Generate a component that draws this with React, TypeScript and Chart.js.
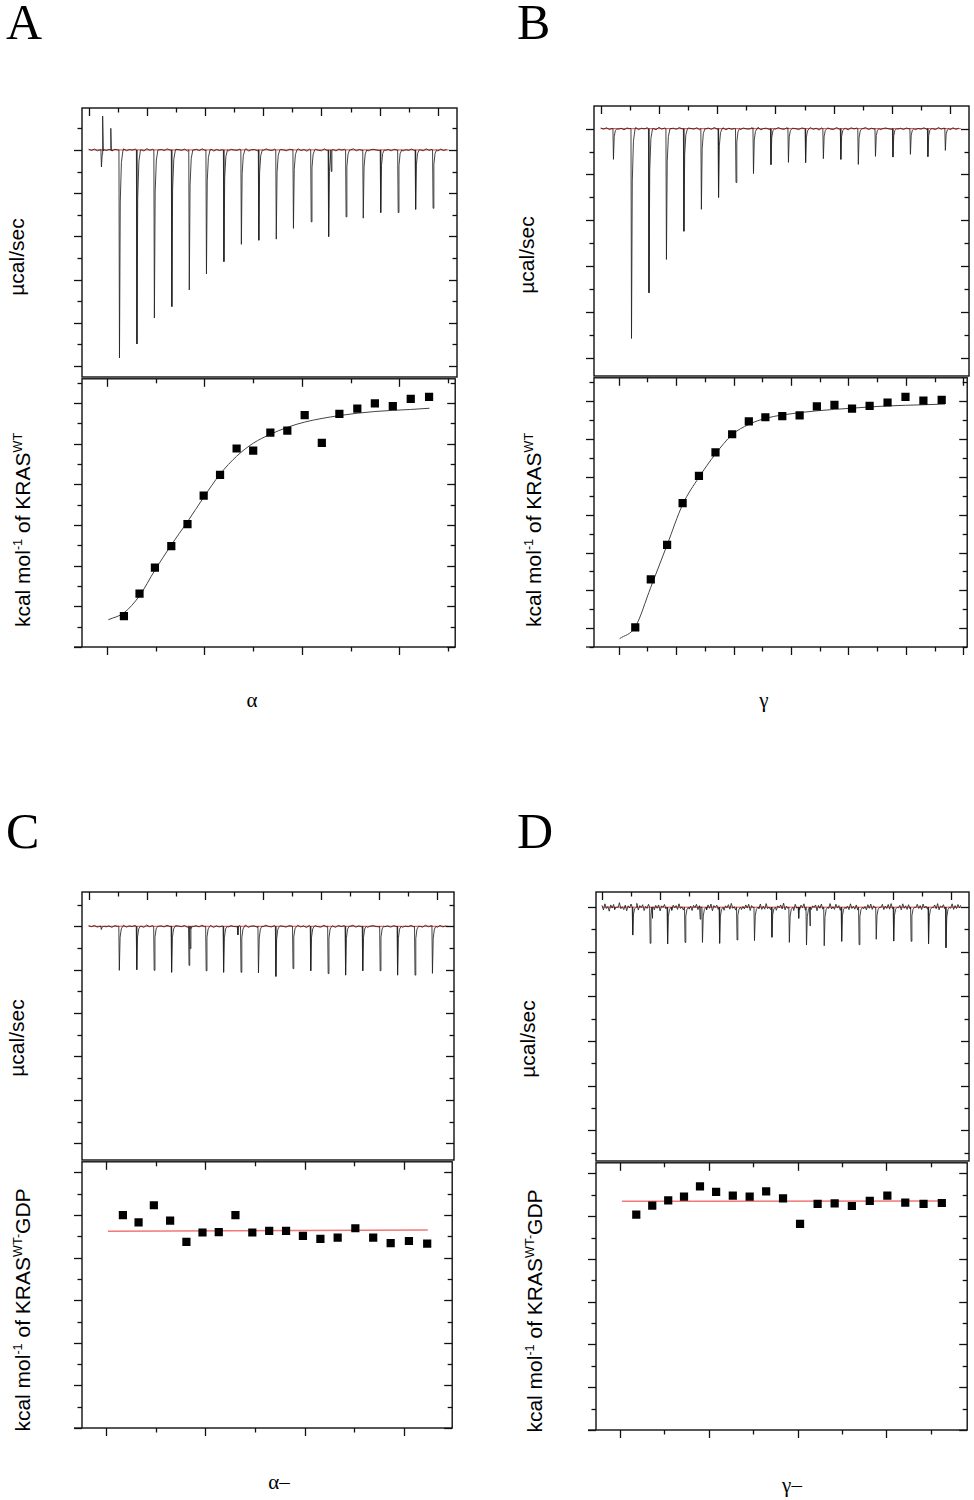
import React, { useEffect, useRef } from 'react';
import { Chart, registerables } from 'chart.js';

Chart.register(...registerables);

// ---------------- data ----------------
// injection times (min) shared by the four raw thermograms
const INJ_TIMES = [4.2, 10.4, 16.4, 22.4, 28.4, 34.4, 40.3, 46.3, 52.3, 58.3, 64.3, 70.2, 76.3, 82.3, 88.3, 94.2, 100.2, 106.2, 112.2, 118.2];

// peak heights (µcal/sec) of each injection
const A_PEAKS = [-0.079, -0.963, -0.898, -0.778, -0.725, -0.648, -0.574, -0.517, -0.437, -0.418, -0.413, -0.363, -0.333, -0.401, -0.31, -0.316, -0.29, -0.29, -0.275, -0.27];
const B_PEAKS = [-0.134, -0.916, -0.717, -0.571, -0.448, -0.352, -0.3, -0.235, -0.196, -0.157, -0.147, -0.148, -0.131, -0.134, -0.156, -0.121, -0.124, -0.112, -0.122, -0.095];
const C_PEAKS = [-0.015, -0.203, -0.2, -0.203, -0.212, -0.18, -0.205, -0.212, -0.212, -0.215, -0.231, -0.195, -0.205, -0.218, -0.225, -0.205, -0.205, -0.225, -0.225, -0.217];
const D_PEAKS = [-0.01, -0.125, -0.162, -0.165, -0.158, -0.158, -0.162, -0.147, -0.15, -0.135, -0.158, -0.17, -0.173, -0.153, -0.168, -0.144, -0.152, -0.153, -0.164, -0.182];

// extra spikes / artefacts in the raw traces: [time, µcal/sec]
const A_EXTRA = [[4.9, 0.157], [7.6, 0.1], [83.4, -0.1]];
const B_EXTRA: number[][] = [];
const C_EXTRA = [[35.0, -0.103], [51.4, -0.04]];
const D_EXTRA = [[17.3, -0.05], [33.8, -0.054], [67.7, -0.05], [71.6, -0.084]];

// baseline wiggle of the raw traces (1/1000 µcal/sec)
const NOISE_ABC = [
  3, -2, 4, -4, 1, 5, -3, 2, -5, 3, 0, -2, 5, -4, 2, -1, 4, -3, 1, -5,
  6, -2, 3, -4, 0, 2, -3, 5, -1, -4, 3, 1, -2, 4, -5, 2, -1, 3, -3, 5,
  -2, 0, 4, -5, 2, -3, 1, 5, -4, 3, -1, -2, 4, -3, 6, -5, 1, 2, -4, 3,
  -2, 5, -1, -3, 4, -5, 2, 0, -4, 3, 1, -2, 5, -3, 2, -6, 4, -1, 3, -2,
  -4, 5, -3, 1, 2, -5, 4, -1, 3, -3, 0, 5, -4, 2, -2, 4, -5, 1, 3, -1,
  -3, 6, -2, 2, -4, 3, -1, 5, -5, 1, -2, 4, -3, 2, 0, -4, 5, -2, 3, -1,
  -5, 4, -3, 2, 1,
];
const NOISE_D = [
  8, -12, 15, -6, 3, -18, 10, -4, 12, -9, 5, -14, 20, -7, 2, -11, 9, -16, 6, -3,
  14, -10, 4, -8, 17, -13, 7, -2, 11, -15, 3, -6, 13, -9, 16, -4, -12, 8, -5, 10,
  -17, 6, -1, 12, -8, 18, -11, 4, -14, 9, -3, 7, -10, 15, -6, 2, -13, 11, -7, 19,
  -9, 5, -15, 8, -2, 13, -11, 6, -4, 16, -8, 3, -12, 10, -5, 14, -16, 7, -1, 9,
  -10, 4, -7, 12, -14, 6, -3, 11, -9, 17, -5, 2, -13, 8, -6, 15, -11, 3, -8, 10,
  -4, 13, -15, 7, -2, 9, -12, 5, -6, 14, -10, 4, -9, 16, -7, 1, -11, 12, -5, 8,
  -14, 6, -3, 10, -8, 18, -12, 4, -6, 11, -9, 3, -15, 13, -4, 7, -10, 9, -2, 15,
  -13, 5, -7, 12, -11, 6, -1, 10, -16, 8, -5, 14, -9, 3, -12, 11, -6, 16, -8, 2,
  -10, 13, -4, 7, -14, 9, -3, 12, -7, 5, -11, 15, -6, 4, -9, 10, -13, 8, -2, 17,
  -8, 3, -12, 11, -5, 14, -10, 6, -4, 9, -15, 7, -1, 13, -11, 5, -6, 12, -9, 16,
  -7, 2, -13, 10, -3, 8, -12, 15, -5, 6, -10, 11, -8, 4, -14, 9, -2, 13, -6, 7,
  -11, 14, -4, 5, -9, 12, -15, 8, -3, 10, -7, 16, -12, 6, -1, 11, -8, 4, -13, 9,
  -5, 15, -10, 7, -6, 12, -4, 9,
];
const TRACE_END = 123.7;

// integrated heats (kcal/mol of injectant) vs molar ratio
const A_RATIO = [0.087, 0.167, 0.246, 0.33, 0.413, 0.496, 0.58, 0.665, 0.75, 0.838, 0.925, 1.014, 1.102, 1.192, 1.284, 1.374, 1.466, 1.558, 1.652];
const A_HEAT = [-5.24, -4.69, -4.05, -3.52, -2.98, -2.28, -1.77, -1.12, -1.17, -0.73, -0.68, -0.3, -0.98, -0.27, -0.14, -0.01, -0.08, 0.1, 0.15];
const A_FIT_RATIO = [0.007, 0.087, 0.167, 0.246, 0.33, 0.413, 0.496, 0.58, 0.665, 0.75, 0.838, 0.925, 1.014, 1.192, 1.374, 1.558, 1.654];
const A_FIT_HEAT = [-5.33, -5.16, -4.74, -4.11, -3.49, -2.92, -2.32, -1.75, -1.31, -0.99, -0.77, -0.6, -0.47, -0.31, -0.21, -0.16, -0.13];

const B_RATIO = [0.145, 0.28, 0.422, 0.557, 0.699, 0.843, 0.988, 1.133, 1.277, 1.424, 1.575, 1.725, 1.878, 2.031, 2.184, 2.34, 2.496, 2.652, 2.811];
const B_HEAT = [-5.98, -4.71, -3.8, -2.69, -1.97, -1.35, -0.87, -0.53, -0.42, -0.39, -0.37, -0.13, -0.09, -0.19, -0.12, -0.03, 0.12, 0.02, 0.04];
const B_FIT_RATIO = [0.009, 0.145, 0.28, 0.422, 0.557, 0.699, 0.843, 0.988, 1.133, 1.277, 1.424, 1.725, 2.031, 2.34, 2.652, 2.84];
const B_FIT_HEAT = [-6.28, -5.97, -4.92, -3.8, -2.73, -2.01, -1.39, -0.88, -0.61, -0.45, -0.36, -0.25, -0.18, -0.12, -0.09, -0.07];

const C_RATIO = [0.084, 0.163, 0.24, 0.322, 0.404, 0.485, 0.567, 0.651, 0.736, 0.821, 0.906, 0.991, 1.079, 1.166, 1.255, 1.345, 1.433, 1.525, 1.617];
const C_HEAT = [-1.0, -1.17, -0.77, -1.13, -1.63, -1.41, -1.4, -1.0, -1.41, -1.37, -1.37, -1.49, -1.56, -1.53, -1.31, -1.53, -1.66, -1.61, -1.67];
const C_FIT_RATIO = [0.0085, 1.62];
const C_FIT_HEAT = [-1.38, -1.35];

const D_RATIO = [0.091, 0.181, 0.271, 0.36, 0.45, 0.541, 0.635, 0.73, 0.823, 0.918, 1.014, 1.113, 1.209, 1.306, 1.407, 1.506, 1.607, 1.71, 1.813];
const D_HEAT = [-0.96, -0.75, -0.63, -0.54, -0.3, -0.43, -0.52, -0.54, -0.42, -0.58, -1.18, -0.71, -0.7, -0.76, -0.64, -0.52, -0.68, -0.71, -0.69];
const D_FIT_RATIO = [0.01, 1.83];
const D_FIT_HEAT = [-0.65, -0.645];

// axis ranges [min, max]
const A_TOP_X = [-2.3, 126.6], A_TOP_Y = [-1.051, 0.194];
const A_BOT_X = [-0.128, 1.786], A_BOT_Y = [-6, 0.594];
const B_TOP_X = [-2.3, 126.5], B_TOP_Y = [-1.08, 0.099];
const B_BOT_X = [-0.214, 3.033], B_BOT_Y = [-6.5, 0.624];
const C_TOP_X = [-2.27, 125.8], C_TOP_Y = [-1.077, 0.158];
const C_BOT_X = [-0.122, 1.743], C_BOT_Y = [-6, 0.25];
const D_TOP_X = [-2.06, 126.3], D_TOP_Y = [-1.138, 0.068];
const D_BOT_X = [-0.136, 1.956], D_BOT_Y = [-6, 0.25];

// ---------------- layout / style ----------------
const GEOM: any = {
  A: { top: { l: 82, t: 108, r: 457, b: 377 }, bot: { l: 82, t: 377, r: 457, b: 647 } },
  B: { top: { l: 594, t: 106, r: 969, b: 376 }, bot: { l: 594, t: 376, r: 969, b: 647 } },
  C: { top: { l: 82, t: 892, r: 454, b: 1160 }, bot: { l: 82, t: 1160, r: 454, b: 1428 } },
  D: { top: { l: 596, t: 892, r: 969, b: 1161 }, bot: { l: 596, t: 1161, r: 969, b: 1430 } },
};
const PAD = { l: 12, t: 4, r: 4, b: 12 };
// relative spike profile of one injection: [min after injection, fraction of peak]
const PEAK_SHAPE = [[0, 0], [0.18, 1], [0.45, 0.25], [0.85, 0.06], [1.4, 0]];

const SANS = '"Liberation Sans", Arial, Helvetica, sans-serif';
const SERIF = '"Liberation Serif", "Times New Roman", Times, serif';

function buildTrace(noise: number[], dt: number, peaks: number[], extras: number[][]) {
  const tail = PEAK_SHAPE[PEAK_SHAPE.length - 1][0];
  const busy = (t: number) =>
    INJ_TIMES.some((ti) => t > ti - 0.05 && t < ti + tail) ||
    extras.some(([te]) => t > te - 0.3 && t < te + 0.3);
  const pts: { x: number; y: number }[] = [];
  for (let k = 0; k < noise.length; k++) {
    const t = k * dt;
    if (t > TRACE_END) break;
    if (!busy(t)) pts.push({ x: t, y: noise[k] / 1000 });
  }
  peaks.forEach((d, i) => PEAK_SHAPE.forEach(([o, f]) => pts.push({ x: INJ_TIMES[i] + o, y: d * f })));
  extras.forEach(([t, v]) => pts.push({ x: t - 0.2, y: 0 }, { x: t, y: v }, { x: t + 0.2, y: 0 }));
  pts.sort((a, b) => a.x - b.x);
  return pts;
}

const xy = (xs: number[], ys: number[]) => xs.map((x, i) => ({ x, y: ys[i] }));

const frameTicks = {
  id: 'frameTicks',
  afterDatasetsDraw(chart: any) {
    const o = chart.options.plugins.frameTicks;
    if (!o) return;
    const { ctx, chartArea: a } = chart;
    const xs = chart.scales.x;
    const ys = chart.scales.y;
    const seg = (x1: number, y1: number, x2: number, y2: number) => {
      ctx.beginPath();
      ctx.moveTo(x1, y1);
      ctx.lineTo(x2, y2);
      ctx.stroke();
    };
    const each = (scale: any, minor: number, major: number, cb: (p: number, M: boolean) => void) => {
      const ratio = Math.round(major / minor);
      const k0 = Math.ceil(scale.min / minor - 1e-6);
      const k1 = Math.floor(scale.max / minor + 1e-6);
      for (let k = k0; k <= k1; k++) cb(Math.round(scale.getPixelForValue(k * minor)) + 0.5, Math.abs(k) % ratio === 0);
    };
    ctx.save();
    ctx.strokeStyle = '#111';
    ctx.lineWidth = 1.3;
    each(ys, o.yMinor, o.yMajor, (p, M) => {
      const L = M ? 8 : 4.5;
      seg(a.left - L, p, a.left, p);
      seg(a.right, p, a.right - L, p);
    });
    each(xs, o.xMinor, o.xMajor, (p, M) => {
      const L = M ? 8 : 4.5;
      seg(p, a.top, p, a.top + L);
      if (o.bottom) seg(p, a.bottom, p, a.bottom + L);
    });
    if (o.bottom) seg(a.left - 8, a.bottom, a.left, a.bottom);
    ctx.lineWidth = 1.4;
    ctx.strokeRect(a.left, a.top, a.right - a.left, a.bottom - a.top);
    ctx.restore();
  },
};

function baseOptions(xr: number[], yr: number[], ticks: any) {
  return {
    animation: false,
    responsive: false,
    events: [],
    layout: { padding: { left: PAD.l, top: PAD.t, right: PAD.r, bottom: PAD.b } },
    plugins: { legend: { display: false }, tooltip: { enabled: false }, frameTicks: ticks },
    scales: {
      x: { type: 'linear', display: false, min: xr[0], max: xr[1] },
      y: { type: 'linear', display: false, min: yr[0], max: yr[1] },
    },
  };
}

function topConfig(noise: number[], dt: number, peaks: number[], extras: number[][], xr: number[], yr: number[]) {
  return {
    type: 'scatter',
    data: {
      datasets: [
        {
          data: buildTrace(noise, dt, peaks, extras),
          showLine: true,
          borderColor: '#222',
          borderWidth: 0.85,
          pointRadius: 0,
        },
        {
          data: [{ x: 0, y: 0 }, { x: TRACE_END, y: 0 }],
          showLine: true,
          borderColor: 'rgba(240,40,40,0.9)',
          borderWidth: 1,
          pointRadius: 0,
        },
      ],
    },
    options: baseOptions(xr, yr, { xMinor: 10, xMajor: 20, yMinor: 0.1, yMajor: 0.2, bottom: false }),
    plugins: [frameTicks],
  };
}

function botConfig(rx: number[], hy: number[], fx: number[], fy: number[], fitColor: string, fitWidth: number, xr: number[], yr: number[]) {
  return {
    type: 'scatter',
    data: {
      datasets: [
        {
          data: xy(rx, hy),
          pointStyle: 'rect',
          pointRadius: 5.8,
          pointBackgroundColor: '#000',
          pointBorderWidth: 0,
          showLine: false,
        },
        {
          data: xy(fx, fy),
          showLine: true,
          borderColor: fitColor,
          borderWidth: fitWidth,
          pointRadius: 0,
          cubicInterpolationMode: 'monotone',
        },
      ],
    },
    options: baseOptions(xr, yr, { xMinor: 0.25, xMajor: 0.5, yMinor: 0.5, yMajor: 1, bottom: true }),
    plugins: [frameTicks],
  };
}

function Plot({ rect, make }: { rect: any; make: () => any }) {
  const ref = useRef<HTMLCanvasElement>(null);
  const w = rect.r - rect.l + PAD.l + PAD.r;
  const h = rect.b - rect.t + PAD.t + PAD.b;
  useEffect(() => {
    const chart = new Chart(ref.current as HTMLCanvasElement, make());
    return () => chart.destroy();
  }, []);
  return (
    <canvas
      ref={ref}
      width={w}
      height={h}
      style={{ position: 'absolute', left: rect.l - PAD.l, top: rect.t - PAD.t, width: w, height: h }}
    />
  );
}

const Sup = ({ children }: any) => (
  <span style={{ fontSize: '0.6em', position: 'relative', top: '-0.6em' }}>{children}</span>
);

function VLabel({ cx, cy, children }: any) {
  return (
    <div
      style={{
        position: 'absolute',
        left: cx,
        top: cy,
        transform: 'translate(-50%, -50%) rotate(-90deg)',
        fontFamily: SANS,
        fontSize: 21,
        lineHeight: '21px',
        whiteSpace: 'nowrap',
        color: '#000',
      }}
    >
      {children}
    </div>
  );
}

function XLabel({ cx, top, text }: any) {
  return (
    <div
      style={{
        position: 'absolute',
        left: cx,
        top,
        transform: 'translateX(-50%)',
        fontFamily: SERIF,
        fontSize: 21,
        lineHeight: '21px',
        whiteSpace: 'nowrap',
        color: '#000',
      }}
    >
      {text}
    </div>
  );
}

function Letter({ left, top, text }: any) {
  return (
    <div style={{ position: 'absolute', left, top, fontFamily: SERIF, fontSize: 50, lineHeight: '50px', color: '#000' }}>
      {text}
    </div>
  );
}

export default function App() {
  return (
    <div style={{ position: 'absolute', left: 0, top: 0, width: 974, height: 1500, background: '#fff', overflow: 'hidden' }}>
      <Plot rect={GEOM.A.top} make={() => topConfig(NOISE_ABC, 1, A_PEAKS, A_EXTRA, A_TOP_X, A_TOP_Y)} />
      <Plot rect={GEOM.A.bot} make={() => botConfig(A_RATIO, A_HEAT, A_FIT_RATIO, A_FIT_HEAT, '#444', 1, A_BOT_X, A_BOT_Y)} />
      <Plot rect={GEOM.B.top} make={() => topConfig(NOISE_ABC, 1, B_PEAKS, B_EXTRA, B_TOP_X, B_TOP_Y)} />
      <Plot rect={GEOM.B.bot} make={() => botConfig(B_RATIO, B_HEAT, B_FIT_RATIO, B_FIT_HEAT, '#444', 1, B_BOT_X, B_BOT_Y)} />
      <Plot rect={GEOM.C.top} make={() => topConfig(NOISE_ABC, 1, C_PEAKS, C_EXTRA, C_TOP_X, C_TOP_Y)} />
      <Plot rect={GEOM.C.bot} make={() => botConfig(C_RATIO, C_HEAT, C_FIT_RATIO, C_FIT_HEAT, '#f07878', 1.5, C_BOT_X, C_BOT_Y)} />
      <Plot rect={GEOM.D.top} make={() => topConfig(NOISE_D, 0.5, D_PEAKS, D_EXTRA, D_TOP_X, D_TOP_Y)} />
      <Plot rect={GEOM.D.bot} make={() => botConfig(D_RATIO, D_HEAT, D_FIT_RATIO, D_FIT_HEAT, '#f07878', 1.5, D_BOT_X, D_BOT_Y)} />

      <Letter left={6} top={-3} text="A" />
      <Letter left={517} top={-3} text="B" />
      <Letter left={6} top={806} text="C" />
      <Letter left={517} top={806} text="D" />

      <VLabel cx={16} cy={257}>µcal/sec</VLabel>
      <VLabel cx={526} cy={255}>µcal/sec</VLabel>
      <VLabel cx={16} cy={1038}>µcal/sec</VLabel>
      <VLabel cx={527} cy={1039}>µcal/sec</VLabel>

      <VLabel cx={24} cy={530}>
        kcal mol<Sup>-1</Sup> of KRAS<Sup>WT</Sup>
      </VLabel>
      <VLabel cx={535} cy={530}>
        kcal mol<Sup>-1</Sup> of KRAS<Sup>WT</Sup>
      </VLabel>
      <VLabel cx={24} cy={1310}>
        kcal mol<Sup>-1</Sup> of KRAS<Sup>WT-</Sup>GDP
      </VLabel>
      <VLabel cx={536} cy={1311}>
        kcal mol<Sup>-1</Sup> of KRAS<Sup>WT-</Sup>GDP
      </VLabel>

      <XLabel cx={252} top={690} text="α" />
      <XLabel cx={764} top={690} text="γ" />
      <XLabel cx={279} top={1472} text="α–" />
      <XLabel cx={792} top={1475} text="γ–" />
    </div>
  );
}
